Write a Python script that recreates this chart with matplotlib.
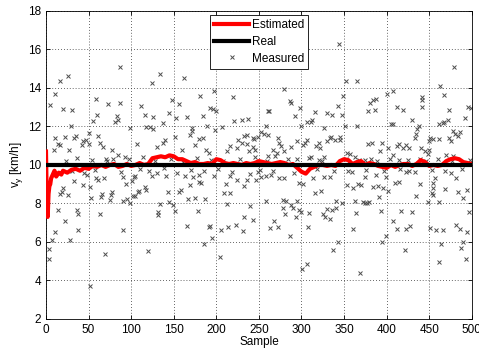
import matplotlib
matplotlib.use("Agg")
import matplotlib.pyplot as plt

plt.rcParams['font.family'] = ['Liberation Sans', 'DejaVu Sans']

# Noisy measurements (sample index, speed in km/h)
measured_sample = [
    5, 10, 16, 26, 20, 31, 29, 11, 14, 16, 9, 22, 33, 35, 27, 42, 43, 47, 51, 50,
    55, 59, 60, 61, 63, 67, 73, 78, 81, 83, 85, 87, 87, 85, 79, 70, 93, 99, 107, 112,
    116, 118, 122, 124, 126, 126, 130, 134, 137, 137, 140, 145, 148, 151, 153, 156, 160, 162, 166, 169,
    171, 172, 175, 180, 180, 181, 184, 184, 189, 192, 196, 197, 198, 200, 207, 212, 216, 220, 221, 224,
    226, 188, 191,
    4, 3, 7, 11, 14, 17, 19, 20, 26, 22, 28, 33, 36, 38, 38, 44, 48, 52, 53, 52,
    59, 61, 64, 65, 66, 68, 69, 75, 76, 78, 90, 91, 91, 94, 95, 99, 101, 102, 105, 103,
    105, 108, 109, 116, 118, 120, 124, 132, 132, 134, 130, 141, 143, 145, 149, 151, 156, 158, 163, 165,
    167, 169, 173, 175, 179, 180, 182, 186, 187, 191, 193, 195, 197, 204, 206, 211, 212, 209, 216, 214,
    223, 216, 224,
    344, 352, 365, 349, 280, 286, 288, 298, 262, 261, 316, 330, 336, 343, 347, 292, 230, 237, 306, 312,
    311, 299, 327, 351, 365, 400, 408, 381, 384, 388, 378, 386, 412, 419, 442, 442, 441, 463, 467, 479,
    473, 496, 499, 492, 472, 462, 466, 467, 478, 486, 484, 480, 475, 473, 470, 478, 451, 455, 462, 450,
    438, 430, 436, 434, 433, 405, 408, 423, 414, 412, 419, 426, 378, 383, 395, 402, 392, 440, 445, 449,
    450, 439, 357, 354, 382, 363, 407, 335, 333, 339, 345, 345, 330, 320, 317, 322, 306, 304, 302, 295,
    288, 280, 274, 272, 276, 271, 269, 261, 256, 258, 252, 249, 244, 243, 236, 233, 236, 243, 245, 238,
    230, 267, 261, 246, 295, 327, 311, 320, 374, 415,
    239, 236, 233, 247, 249, 253, 258, 264, 233, 243, 240, 231, 258, 263, 268, 272, 274, 279, 278, 282,
    286, 281, 278, 288, 290, 295, 293, 297, 300, 297, 302, 301, 306, 308, 309, 313, 316, 323, 325, 328,
    330, 333, 336, 340, 341, 348, 337, 343, 326, 334, 354, 355, 361, 364, 363, 360, 366, 370, 372, 374,
    377, 379, 374, 369, 384, 390, 387, 391, 393, 396, 399, 402, 395, 399, 408, 412, 410, 415, 417, 421,
    423, 423, 428, 430, 435, 439, 426, 451, 449, 453, 455, 455, 457, 458, 461, 462, 464, 466, 468, 481,
    486, 484, 490, 490, 487, 493, 494, 497, 494, 481, 476, 455,
    24, 31, 37, 45, 54, 58, 72, 88, 97, 110, 114, 121, 128, 139, 147, 154, 161, 170, 177, 185,
    194, 202, 208, 218, 228, 251, 259, 266, 284, 291, 309, 318, 324, 338, 352, 359, 368, 376, 389, 397,
    404, 416, 425, 433, 446, 453, 460, 469, 477, 488, 498,
]
measured_value = [
    13.1, 13.7, 14.35, 14.6, 12.9, 12.85, 12.05, 11.4, 11.1, 11.05, 10.8, 11.45, 11.4, 11.5, 10.8, 11.05, 11.25, 11.3, 11.1, 11.65,
    12.3, 13.45, 12.6, 11.5, 11.15, 10.95, 13.15, 10.8, 12.25, 12.55, 12.35, 15.1, 13.2, 10.5, 10.3, 10.3, 10.4, 11.9, 11.1, 13.05,
    12.6, 11.95, 11.95, 14.25, 12.5, 11.85, 10.95, 14.7, 12.2, 11.15, 11.3, 12.7, 13.4, 11.45, 12.45, 13.15, 10.8, 14.5, 12.5, 11.55,
    11.75, 11.9, 11.05, 11.35, 9.5, 13.6, 12.55, 11.4, 12.0, 12.95, 12.9, 13.85, 11.8, 12.8, 11.95, 10.7, 11.0, 13.55, 12.3, 10.9,
    11.3, 10.8, 10.6,
    5.65, 5.1, 6.1, 6.5, 7.65, 8.5, 8.6, 8.8, 8.45, 7.1, 6.1, 9.15, 7.65, 7.45, 6.6, 8.95, 9.5, 8.85, 8.3, 3.7,
    9.3, 9.2, 7.45, 8.35, 8.5, 9.3, 5.35, 8.2, 8.45, 8.6, 8.15, 6.6, 9.4, 9.0, 8.25, 8.0, 9.15, 8.4, 8.4, 9.4,
    9.45, 8.6, 8.65, 8.85, 8.7, 5.55, 9.45, 7.4, 7.55, 7.95, 9.6, 9.45, 8.6, 8.1, 7.9, 7.6, 8.6, 8.7, 9.45, 6.85,
    8.25, 8.95, 9.4, 8.3, 7.6, 9.1, 9.05, 5.9, 8.25, 6.8, 6.85, 6.2, 9.45, 5.2, 6.6, 9.0, 7.95, 8.55, 8.55, 6.8,
    6.9, 9.45, 9.2,
    16.3, 14.35, 14.35, 13.6, 13.95, 13.3, 13.2, 12.95, 12.8, 12.8, 12.75, 12.7, 12.6, 13.05, 12.6, 12.55, 12.35, 12.4, 12.25, 12.35,
    12.25, 12.05, 11.9, 12.0, 12.0, 13.7, 13.85, 13.2, 13.35, 13.45, 12.8, 12.85, 13.0, 12.85, 13.35, 13.55, 13.0, 14.1, 13.65, 15.1,
    12.85, 13.0, 12.95, 12.45, 12.35, 12.15, 12.2, 12.25, 11.75, 11.7, 11.5, 11.6, 11.25, 11.4, 10.5, 10.45, 11.4, 11.35, 11.35, 11.25,
    12.0, 12.35, 11.85, 11.6, 11.4, 12.15, 12.15, 11.05, 11.1, 11.0, 10.9, 10.9, 11.1, 11.15, 11.15, 10.9, 10.7, 10.9, 10.7, 10.55,
    10.8, 10.3, 10.55, 10.6, 10.3, 10.4, 10.5, 11.45, 11.4, 11.3, 11.45, 11.3, 11.25, 11.15, 11.0, 10.9, 11.3, 11.15, 11.05, 11.25,
    10.95, 10.75, 11.15, 11.4, 11.0, 10.6, 10.45, 11.55, 11.6, 12.0, 11.7, 11.45, 11.35, 11.4, 11.55, 11.5, 11.1, 10.95, 10.8, 10.75,
    11.15, 10.8, 10.45, 10.4, 10.3, 10.4, 10.4, 10.25, 10.25, 10.25,
    9.55, 9.2, 8.9, 9.2, 9.65, 9.4, 9.45, 9.5, 7.3, 7.15, 7.85, 6.55, 8.15, 6.75, 7.1, 6.8, 9.3, 9.3, 8.2, 8.15,
    6.3, 7.45, 7.75, 7.9, 7.75, 8.15, 7.3, 7.65, 7.55, 9.05, 9.0, 4.6, 4.85, 6.8, 7.5, 9.3, 8.55, 8.65, 7.45, 7.3,
    7.7, 7.2, 7.65, 7.75, 8.15, 8.0, 5.6, 6.0, 9.4, 9.4, 8.95, 9.7, 6.65, 7.5, 8.15, 8.8, 9.0, 8.95, 8.05, 8.0,
    8.0, 8.05, 9.4, 4.4, 8.85, 8.9, 9.5, 8.35, 7.6, 8.8, 9.4, 8.65, 6.0, 6.3, 7.1, 6.65, 9.05, 9.1, 7.6, 5.6,
    6.65, 9.65, 6.85, 7.55, 8.4, 9.0, 9.7, 6.7, 8.1, 8.55, 8.45, 9.05, 9.3, 6.6, 4.95, 8.1, 5.9, 6.6, 8.75, 6.9,
    6.65, 8.6, 8.3, 6.0, 5.7, 5.1, 6.5, 7.55, 8.7, 9.3, 9.6, 8.8,
    10.2, 9.7, 10.35, 9.6, 10.25, 9.75, 10.2, 9.65, 10.3, 9.8, 10.4, 9.7, 10.2, 9.85, 10.3, 9.6, 10.15, 9.75, 10.35, 9.7,
    10.25, 9.8, 10.2, 9.65, 10.3, 9.75, 10.2, 9.7, 10.3, 9.6, 10.35, 9.8, 10.2, 9.7, 10.3, 9.65, 10.25, 9.75, 10.2, 9.7,
    10.3, 9.8, 10.25, 9.65, 10.2, 9.75, 10.3, 9.7, 10.2, 9.8, 10.25,
]

# Filter output
estimated_sample = [0, 1, 2, 3, 4, 5, 6, 8, 10, 12, 15, 18] + list(range(20, 501, 5))
estimated_value = [
    10.7, 8.0, 7.3, 8.5, 8.9, 9.0, 9.3, 9.5, 9.7, 9.4, 9.6, 9.5,
    9.7, 9.6, 9.75, 9.8, 9.7, 9.85, 9.8, 9.95, 9.9, 10.0, 9.9, 10.0, 10.05, 9.9, 9.95, 10.05,
    9.95, 10.0, 10.1, 10.0, 10.05, 10.35, 10.4, 10.45, 10.4, 10.5, 10.45, 10.3, 10.3, 10.2, 10.1, 10.15,
    10.05, 10.05, 10.1, 10.05, 10.3, 10.25, 10.1, 10.05, 10.1, 10.05, 10.0, 10.1, 10.05, 10.1, 10.2, 10.15,
    10.1, 10.05, 10.1, 10.15, 10.1, 10.0, 10.05, 9.85, 9.65, 9.55, 9.8, 9.9, 10.0, 10.0, 9.95, 10.0,
    9.95, 10.2, 10.3, 10.25, 10.05, 10.15, 10.2, 10.0, 10.1, 10.05, 9.95, 9.9, 9.85, 10.0, 9.9, 10.0,
    10.05, 10.05, 9.95, 10.05, 10.25, 10.15, 9.95, 10.0, 9.95, 10.0, 10.2, 10.3, 10.35, 10.3, 10.15, 10.1,
    10.05,
]

real_sample = [0, 500]
real_value = [10, 10]

fig = plt.figure(figsize=(4.79, 3.54), dpi=100)
ax = fig.add_axes([0.096, 0.099, 0.889, 0.870])

ax.plot(measured_sample, measured_value, linestyle='none', marker='x', markersize=3.5,
        markeredgewidth=0.7, color='0.3', label='Measured', zorder=2)
ax.plot(estimated_sample, estimated_value, color='#ff0000', linewidth=3, label='Estimated', zorder=3)
ax.plot(real_sample, real_value, color='black', linewidth=3, label='Real', zorder=4)

ax.set_xlim(0, 500)
ax.set_ylim(2, 18)
ax.set_xticks(range(0, 501, 50))
ax.set_yticks(range(2, 19, 2))
ax.tick_params(direction='in', top=True, right=True, labelsize=8.5, length=3, width=0.6)
ax.grid(True, linestyle=(0, (1, 2.5)), color='0.2', linewidth=0.6)
for s in ax.spines.values():
    s.set_linewidth(0.6)

ax.set_xlabel('Sample', fontsize=8.5, labelpad=0)
ax.set_ylabel(r'$\mathregular{v_y}$ [km/h]', fontsize=8.5, labelpad=2)

handles, labels = ax.get_legend_handles_labels()
order = [1, 2, 0]
leg = ax.legend([handles[i] for i in order], [labels[i] for i in order],
                loc='upper left', bbox_to_anchor=(0.385, 0.987), borderaxespad=0,
                fontsize=8.5, fancybox=False, framealpha=1, edgecolor='black',
                handlelength=3.0, borderpad=0.35, labelspacing=0.4, handletextpad=0.2)
leg.get_frame().set_linewidth(0.6)

fig.savefig('out.png', dpi=100)
